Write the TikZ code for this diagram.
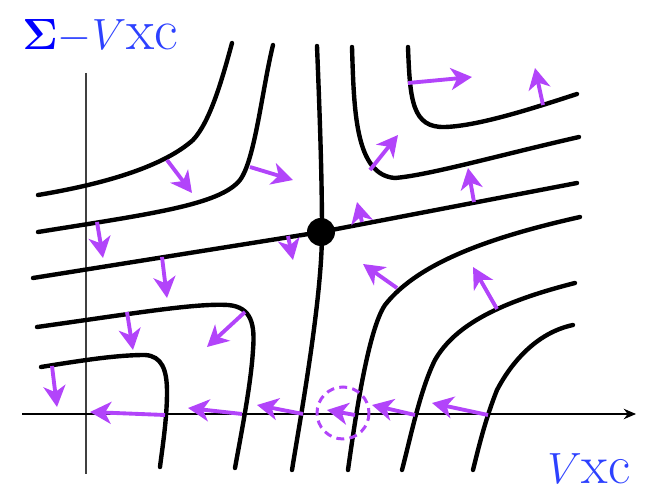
\documentclass[tikz,border=0pt]{standalone}
\usetikzlibrary{arrows.meta}
\definecolor{flowpurple}{RGB}{178,68,250}
\definecolor{labblue}{RGB}{0,0,255}
\definecolor{labblue2}{RGB}{45,65,255}
\tikzset{
  curve/.style={line width=2.5pt, black, line cap=round},
  flow/.style={line width=2.2pt, flowpurple, -{Stealth[length=12pt,width=12.5pt,inset=3.5pt]}},
  axis/.style={line width=0.85pt},
}
\begin{document}
\begin{tikzpicture}[x=0.02cm,y=-0.02cm]
\useasboundingbox (0,0) rectangle (650,493);
% axes
\draw[axis,black!75] (86,73) -- (86,474);
\draw[axis,black,-{Stealth[length=7pt,width=6pt]}] (22,414) -- (636,414);
% labels
\node[anchor=base west,inner sep=0,font=\fontsize{33}{36}\selectfont] (ylab) at (22,50)
  {\textcolor{labblue}{$\mathbf{\Sigma}$}\textcolor{labblue2}{$-V$xc}};
\node[anchor=base west,inner sep=0,font=\fontsize{31}{34}\selectfont,text=labblue2] (xlab) at (547,484) {$V$xc};
% black curves
\draw[curve] (38,195) .. controls (110,183) and (165,165) .. (193,140)
             .. controls (210,122) and (222,80) .. (232,43);
\draw[curve] (38,232) .. controls (150,214) and (220,205) .. (240,180)
             .. controls (255,160) and (262,90) .. (273,45);
\draw[curve] (317,46) .. controls (320,120) and (322,180) .. (322,232)
             .. controls (322,300) and (300,420) .. (292,470);
\draw[curve] (33,278) -- (321,232) -- (577,183);
\draw[curve] (352,47) .. controls (354,110) and (355,175) .. (395,178)
             .. controls (430,175) and (500,155) .. (579,137);
\draw[curve] (408,47) .. controls (410,100) and (412,128) .. (445,127)
             .. controls (480,126) and (540,106) .. (577,94);
\draw[curve] (37,327) .. controls (130,314) and (195,303) .. (228,305)
             .. controls (252,307) and (255,325) .. (253,350)
             .. controls (251,385) and (240,440) .. (235,468);
\draw[curve] (41,367) .. controls (90,359) and (120,355) .. (145,355)
             .. controls (162,356) and (167,370) .. (167,392)
             .. controls (167,420) and (162,450) .. (160,467);
\draw[curve] (580,217) .. controls (500,235) and (420,260) .. (385,305)
             .. controls (368,330) and (355,420) .. (348,470);
\draw[curve] (575,283) .. controls (500,302) and (455,325) .. (435,360)
             .. controls (420,390) and (410,440) .. (402,470);
\draw[curve] (573,325) .. controls (535,333) and (510,365) .. (497,390)
             .. controls (485,420) and (478,450) .. (473,470);
% saddle point
\fill[black] (321,232) circle[radius=14];
% flow arrows
\draw[flow] (167,160) -- (192,193);
\draw[flow] (250,167) -- (293,180);
\draw[flow] (97,222) -- (103,258);
\draw[flow] (288,236) -- (293,260);
\draw[flow] (362,222) -- (357,202);
\draw[flow] (474,202) -- (468,168);
\draw[flow] (370,170) -- (398,135);
\draw[flow] (408,83) -- (472,77);
\draw[flow] (543,105) -- (535,68);
\draw[flow] (162,257) -- (167,298);
\draw[flow] (127,312) -- (133,350);
\draw[flow] (245,312) -- (207,347);
\draw[flow] (52,366) -- (57,407);
\draw[flow] (165,415) -- (90,412);
\draw[flow] (242,414) -- (188,408);
\draw[flow] (303,414) -- (257,405);
\draw[flow] (355,415) -- (327,410);
\draw[flow] (415,415) -- (372,405);
\draw[flow] (488,415) -- (432,403);
\draw[flow] (397,288) -- (363,264);
\draw[flow] (497,309) -- (473,267);
% dashed circle
\draw[flowpurple,line width=1.7pt,dash pattern=on 4.5pt off 3pt] (343,413) circle[radius=26];
\end{tikzpicture}
\end{document}
